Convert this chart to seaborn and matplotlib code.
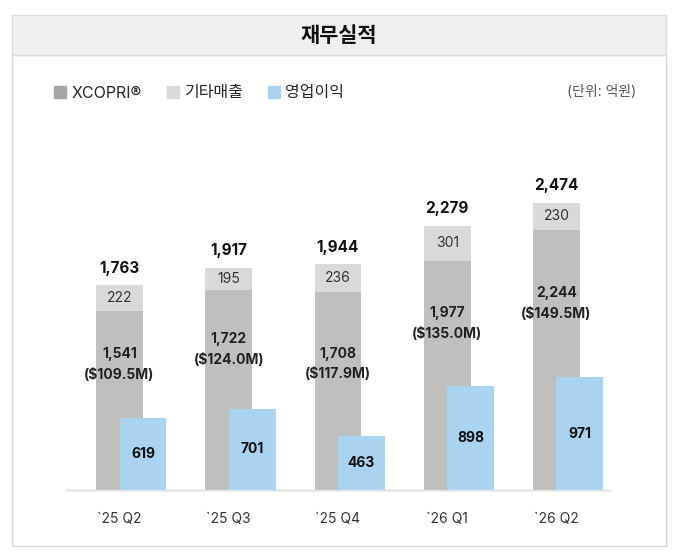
import numpy as np
import pandas as pd
import matplotlib.pyplot as plt
from matplotlib.patches import Rectangle, Patch
import seaborn as sns

# dados do gráfico (억원)
quarters = ["`25 Q2", "`25 Q3", "`25 Q4", "`26 Q1", "`26 Q2"]
xcopri = [1541, 1722, 1708, 1977, 2244]
other = [222, 195, 236, 301, 230]
total = [1763, 1917, 1944, 2279, 2474]
usd = ["$109.5M", "$124.0M", "$117.9M", "$135.0M", "$149.5M"]
oper = [619, 701, 463, 898, 971]

c_xcopri = '#bfbfbf'
c_other = '#d9d9d9'
c_oper = '#a9d3ef'
c_xcopri_leg = '#a6a6a6'

sns.set_theme(style='white')
plt.rcParams['font.family'] = ['Inter', 'Noto Sans CJK KR', 'DejaVu Sans']

W, H = 680, 560
fig = plt.figure(figsize=(6.8, 5.6), dpi=100)

# moldura e cabeçalho
def box(x0, y0, x1, y1, fc, ec):
    fig.patches.append(Rectangle((x0 / W, 1 - y1 / H), (x1 - x0) / W, (y1 - y0) / H,
                                 transform=fig.transFigure, facecolor=fc,
                                 edgecolor=ec, linewidth=1, zorder=-1))

box(12, 55, 666, 546, 'white', '#d6d6d6')
box(12, 15, 666, 55, '#efefef', '#dcdcdc')
fig.text(339 / W, 1 - 36 / H, '재무실적', ha='center', va='center',
         fontsize=15, fontweight='bold', color='#111111',
         family=['Noto Sans CJK KR', 'DejaVu Sans'])

ax = fig.add_axes([66 / W, 1 - 490 / H, 544 / W, 340 / H])
ax.set_zorder(1)

df = pd.DataFrame({'pos': np.arange(len(quarters), dtype=float), 'quarter': quarters,
                   'xcopri': xcopri, 'other': other, 'total': total, 'oper': oper})
df['pos_oper'] = df['pos'] + 0.215

sns.barplot(data=df, x='pos', y='total', native_scale=True, width=0.43,
            color=c_other, saturation=1, linewidth=0, errorbar=None, ax=ax)
sns.barplot(data=df, x='pos', y='xcopri', native_scale=True, width=0.43,
            color=c_xcopri, saturation=1, linewidth=0, errorbar=None, ax=ax)
sns.barplot(data=df, x='pos_oper', y='oper', native_scale=True, width=0.43,
            color=c_oper, saturation=1, linewidth=0, errorbar=None, ax=ax)

for i, row in df.iterrows():
    p = row['pos']
    ax.text(p, row['total'] + 150, f"{row['total']:,}", ha='center', va='center',
            fontsize=11, fontweight='bold', color='#111111')
    ax.text(p, row['xcopri'] + row['other'] / 2, f"{row['other']:,}", ha='center',
            va='center', fontsize=10, color='#333333')
    mid = (row['xcopri'] + row['oper']) / 2
    ax.text(p, mid + 90, f"{row['xcopri']:,}", ha='center', va='center',
            fontsize=10, fontweight='bold', color='#222222')
    ax.text(p, mid - 90, f"({usd[i]})", ha='center', va='center',
            fontsize=10, fontweight='bold', color='#222222')
    ax.text(row['pos_oper'], row['oper'] / 2, f"{row['oper']:,}", ha='center',
            va='center', fontsize=10, fontweight='bold', color='#111111')

ax.set_xlim(-0.49, 4.49)
ax.set_ylim(0, 2930)
ax.set_xticks(df['pos'], quarters)
ax.set_yticks([])
ax.set_xlabel('')
ax.set_ylabel('')
ax.tick_params(axis='x', length=0, pad=16, labelsize=10, labelcolor='#333333')
for s in ax.spines.values():
    s.set_visible(False)
ax.axhline(0, color='#e8e8e8', linewidth=2, clip_on=False, zorder=0)
ax.patch.set_alpha(0)

handles = [Patch(color=c_xcopri_leg), Patch(color=c_other), Patch(color=c_oper)]
fig.legend(handles, ['XCOPRI®', '기타매출', '영업이익'], loc='center left',
           bbox_to_anchor=(40 / W, 1 - 93 / H), ncol=3, frameon=False,
           fontsize=11.5, handlelength=0.75, handleheight=0.75,
           handletextpad=0.3, columnspacing=1.6)
fig.text(636 / W, 1 - 92 / H, '(단위: 억원)', ha='right', va='center',
         fontsize=10, color='#555555')

fig.savefig('out.png', dpi=100)
